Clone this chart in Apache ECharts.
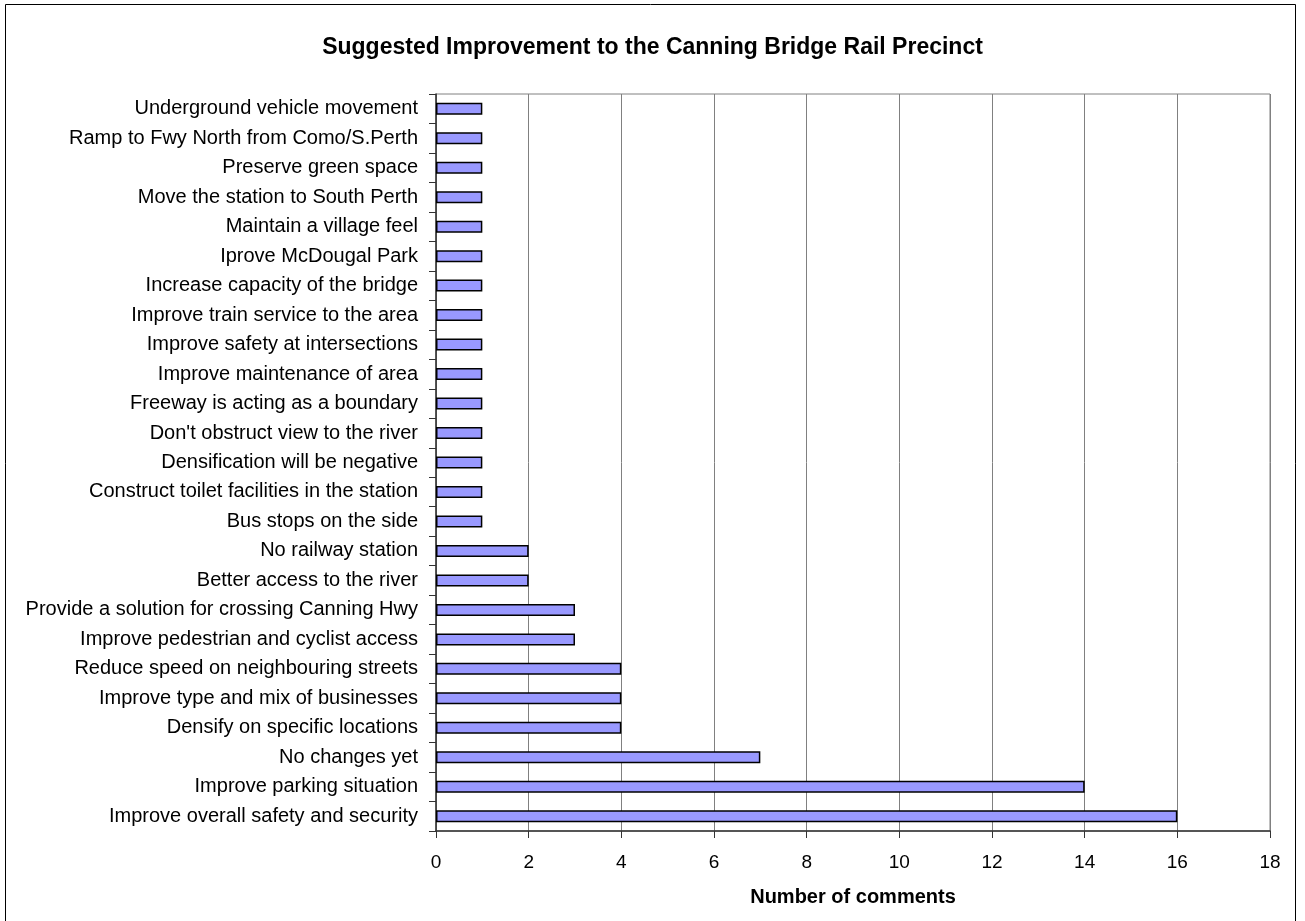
<!DOCTYPE html>
<html><head><meta charset="utf-8">
<script src="https://cdn.jsdelivr.net/npm/echarts@6/dist/echarts.min.js"></script>
<style>html,body{margin:0;padding:0;background:#fff}#c{width:1305px;height:921px}</style>
</head><body><div id="c"></div>
<script>
const categories = [
  "Underground vehicle movement",
  "Ramp to Fwy North from Como/S.Perth",
  "Preserve green space",
  "Move the station to South Perth",
  "Maintain a village feel",
  "Iprove McDougal Park",
  "Increase capacity of the bridge",
  "Improve train service to the area",
  "Improve safety at intersections",
  "Improve maintenance of area",
  "Freeway is acting as a boundary",
  "Don't obstruct view to the river",
  "Densification will be negative",
  "Construct toilet facilities in the station",
  "Bus stops on the side",
  "No railway station",
  "Better access to the river",
  "Provide a solution for crossing Canning Hwy",
  "Improve pedestrian and cyclist access",
  "Reduce speed on neighbouring streets",
  "Improve type and mix of businesses",
  "Densify on specific locations",
  "No changes yet",
  "Improve parking situation",
  "Improve overall safety and security"
];
const values = [1,1,1,1,1,1,1,1,1,1,1,1,1,1,1,2,2,3,3,4,4,4,7,14,16];
const xTicks = [0,2,4,6,8,10,12,14,16,18];
const titleText = "Suggested Improvement to the Canning Bridge Rail Precinct";
const xName = "Number of comments";

const chart = echarts.init(document.getElementById('c'), null, {renderer:'canvas'});
const FONT = '"Liberation Sans", Arial, sans-serif';
chart.setOption({
  backgroundColor: '#fff',
  animation: false,
  title: {
    text: titleText, left: 'center', top: 31,
    textStyle: {fontFamily: FONT, fontSize: 23, fontWeight: 'bold', color: '#000'}
  },
  graphic: [{
    type: 'rect', shape: {x: 5.5, y: 4.5, width: 1290, height: 930},
    style: {fill: 'none', stroke: '#000', lineWidth: 1}, silent: true, z: -1
  }],
  grid: {left: 436, right: 35, top: 94, bottom: 90, show: true, borderColor: '#808080', borderWidth: 1, backgroundColor: 'transparent'},
  xAxis: {
    type: 'value', min: xTicks[0], max: xTicks[xTicks.length-1], interval: 2,
    name: xName, nameLocation: 'middle', nameGap: 56,
    nameTextStyle: {fontFamily: FONT, fontSize: 20, fontWeight: 'bold', color: '#000'},
    axisLine: {show: true, lineStyle: {color: '#333', width: 1.5}},
    axisTick: {show: true, length: 7, lineStyle: {color: '#333'}},
    axisLabel: {fontFamily: FONT, fontSize: 19, color: '#000', margin: 22},
    splitLine: {show: true, lineStyle: {color: '#808080', width: 1}}
  },
  yAxis: {
    type: 'category', data: categories, inverse: true,
    axisLine: {show: true, lineStyle: {color: '#333', width: 1.5}},
    axisTick: {show: true, length: 7, lineStyle: {color: '#333'}},
    axisLabel: {fontFamily: FONT, fontSize: 20, color: '#000', margin: 18, interval: 0},
    splitLine: {show: false}
  },
  series: [{
    type: 'bar', data: values, barWidth: 12,
    itemStyle: {color: '#9999FF', borderColor: '#000', borderWidth: 1.5}
  }]
});
</script></body></html>
